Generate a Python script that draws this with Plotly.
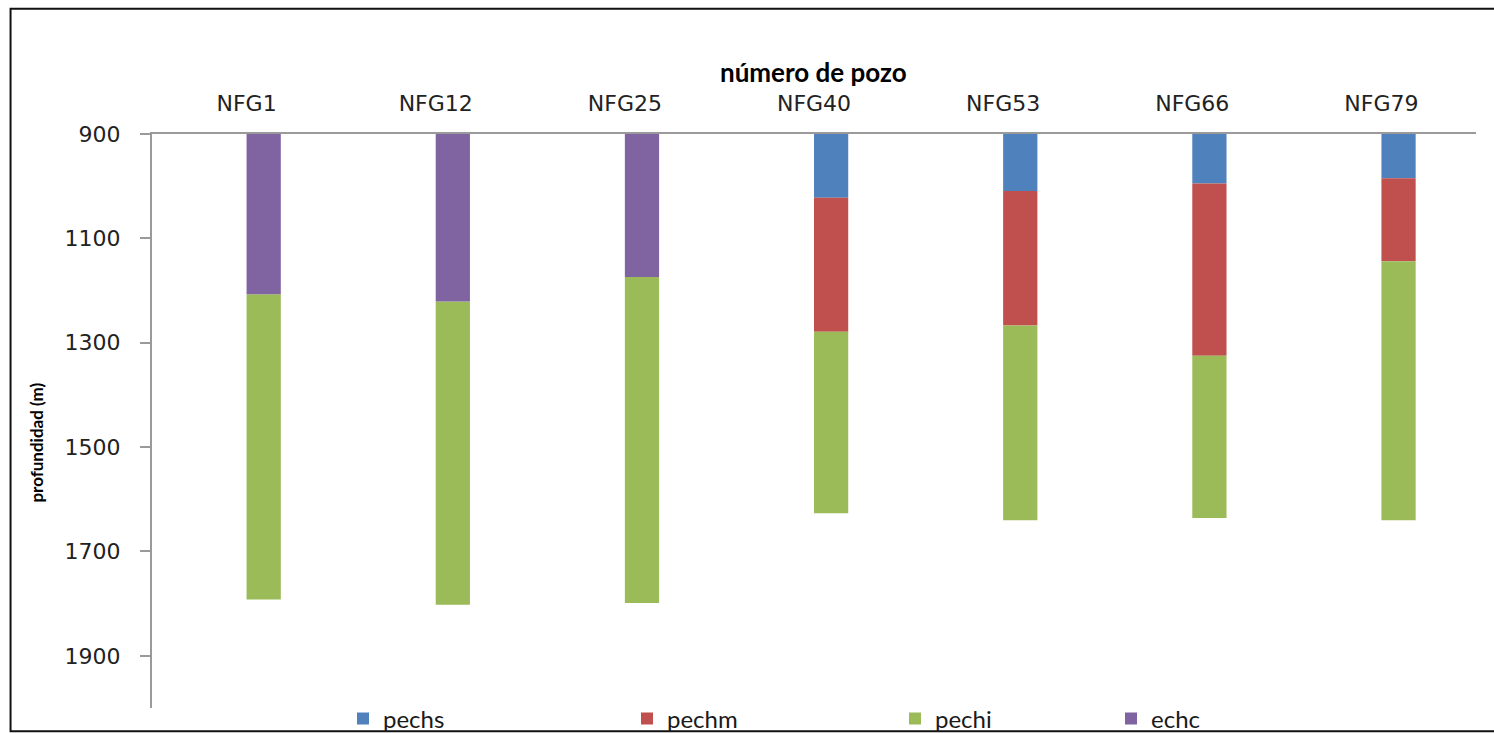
import numpy as np
import plotly.graph_objects as go

# Wells (x categories) and the depth at which the column starts
pozos = ["NFG1", "NFG12", "NFG25", "NFG40", "NFG53", "NFG66", "NFG79"]
tope = 900

# Thickness (m) of each unit per well, listed from the top of the column down
echc = [307, 321, 274, 0, 0, 0, 0]
pechs = [0, 0, 0, 122, 109, 95, 85]
pechm = [0, 0, 0, 257, 258, 330, 159]
pechi = [585, 581, 625, 348, 373, 311, 496]

y_ticks = [900, 1100, 1300, 1500, 1700, 1900]

# Stacking order down the column: echc, pechs, pechm, pechi
orden = [("echc", echc), ("pechs", pechs), ("pechm", pechm), ("pechi", pechi)]
bases = {}
acum = np.full(len(pozos), float(tope))
for nombre, espesor in orden:
    bases[nombre] = acum.copy()
    acum = acum + np.array(espesor, dtype=float)

colores = {"pechs": "#4F81BD", "pechm": "#C0504D", "pechi": "#9BBB59", "echc": "#8064A2"}
espesores = {"pechs": pechs, "pechm": pechm, "pechi": pechi, "echc": echc}

FIG_W, FIG_H = 1494, 733
W0, W1 = 151.5, 1476.0
H0, H1 = 133.5, 708.3
pw, ph = W1 - W0, H1 - H0

def px_x(p):
    return (p - W0) / pw

def px_y(p):
    return (H1 - p) / ph

# Each legend entry sits in its own legend box spread along the bottom
leyenda_px = {"pechs": 343, "pechm": 627, "pechi": 895, "echc": 1111}
leyenda_id = {"pechs": "legend", "pechm": "legend2", "pechi": "legend3", "echc": "legend4"}

fig = go.Figure()
for nombre in ["pechs", "pechm", "pechi", "echc"]:
    fig.add_trace(go.Bar(
        x=pozos,
        y=espesores[nombre],
        base=bases[nombre],
        name=nombre,
        marker=dict(color=colores[nombre], line=dict(width=0)),
        width=0.181,
        offset=0.0,
        legend=leyenda_id[nombre],
    ))

legend_style = dict(
    orientation="h",
    xref="container",
    yref="container",
    yanchor="middle",
    y=1 - 719 / FIG_H,
    xanchor="left",
    font=dict(family="Lato, sans-serif", size=24, color="#1a1a1a"),
    bgcolor="rgba(0,0,0,0)",
    itemclick=False,
)
layout_legends = {}
for nombre, lid in leyenda_id.items():
    layout_legends[lid] = dict(legend_style, x=leyenda_px[nombre] / FIG_W)

fig.update_layout(
    width=FIG_W,
    height=FIG_H,
    margin=dict(l=W0, r=FIG_W - W1, t=H0, b=FIG_H - H1, pad=0, autoexpand=False),
    paper_bgcolor="white",
    plot_bgcolor="white",
    barmode="overlay",
    showlegend=True,
    **layout_legends,
    xaxis=dict(
        type="category",
        side="top",
        showline=True,
        linecolor="#9a9a9a",
        linewidth=2,
        ticks="",
        showgrid=False,
        zeroline=False,
        tickfont=dict(family="DejaVu Sans, Verdana, sans-serif", size=22, color="#222"),
        ticklabelstandoff=12,
        range=[-0.5, 6.5],
        fixedrange=True,
    ),
    yaxis=dict(
        range=[2000, 900],
        tickmode="array",
        tickvals=y_ticks,
        showline=True,
        linecolor="#9a9a9a",
        linewidth=2,
        ticks="outside",
        ticklen=10,
        tickwidth=2,
        tickcolor="#9a9a9a",
        showgrid=False,
        zeroline=False,
        tickfont=dict(family="DejaVu Sans, Verdana, sans-serif", size=22, color="#222"),
        ticklabelstandoff=15,
        fixedrange=True,
    ),
    annotations=[
        dict(
            text="<b>número de pozo</b>",
            xref="paper", yref="paper",
            x=px_x(813.5), y=px_y(71),
            xanchor="center", yanchor="middle",
            showarrow=False,
            font=dict(family="Lato, sans-serif", size=26, color="#000"),
        ),
        dict(
            text="<b>profundidad (m)</b>",
            xref="paper", yref="paper",
            x=px_x(36), y=px_y(443),
            xanchor="center", yanchor="middle",
            textangle=-90,
            showarrow=False,
            font=dict(family="Lato, sans-serif", size=17, color="#000"),
        ),
    ],
    shapes=[
        dict(
            type="rect",
            xref="paper", yref="paper",
            x0=px_x(10), x1=px_x(1520),
            y0=px_y(731.5), y1=px_y(8),
            line=dict(color="#111", width=2),
            fillcolor="rgba(0,0,0,0)",
            layer="below",
        )
    ],
)

fig.write_html("out.html")
